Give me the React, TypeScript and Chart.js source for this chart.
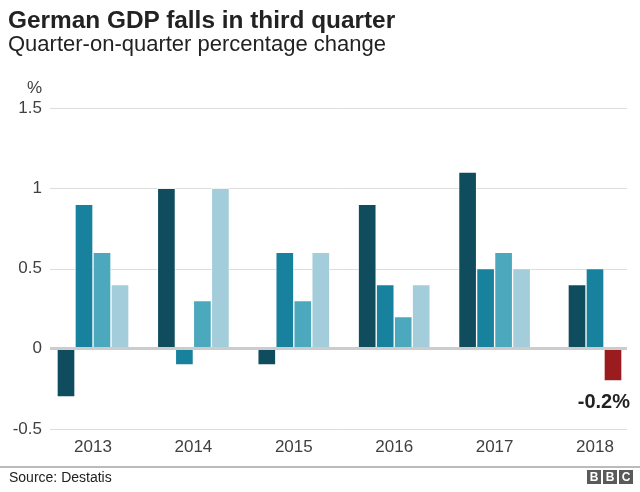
import React, { useEffect, useRef } from "react";
import { Chart, registerables } from "chart.js";

Chart.register(...registerables);

// ---- Data ----
const years = ["2013", "2014", "2015", "2016", "2017", "2018"];
const q1 = [-0.3, 1.0, -0.1, 0.9, 1.1, 0.4];
const q2 = [0.9, -0.1, 0.6, 0.4, 0.5, 0.5];
const q3 = [0.6, 0.3, 0.3, 0.2, 0.6, -0.2];
const q4: (number | null)[] = [0.4, 1.0, 0.6, 0.4, 0.5, null];
const seriesNames = ["Q1", "Q2", "Q3", "Q4"];
const yMin = -0.5;
const yMax = 1.5;
const yStep = 0.5;
const latestLabel = "-0.2%";

const seriesColors = ["#0f4d5e", "#17819e", "#4ca8bd", "#a3cdda"];
const latestColor = "#9b1c1f";
const FONT = "'Liberation Sans', Arial, Helvetica, sans-serif";

const gridPlugin = {
  id: "bbcGrid",
  beforeDatasetsDraw(chart: any) {
    const y = chart.scales.y;
    const ctx = chart.ctx;
    ctx.save();
    ctx.strokeStyle = "#dddddd";
    ctx.lineWidth = 1;
    y.ticks.forEach((t: any) => {
      if (t.value === 0) return;
      const py = Math.round(y.getPixelForValue(t.value)) + 0.5;
      ctx.beginPath();
      ctx.moveTo(50, py);
      ctx.lineTo(627, py);
      ctx.stroke();
    });
    ctx.restore();
  },
  afterDatasetsDraw(chart: any) {
    const y = chart.scales.y;
    const ctx = chart.ctx;
    ctx.save();
    const p0 = Math.round(y.getPixelForValue(0)) - 0.5;
    ctx.strokeStyle = "#cccccc";
    ctx.lineWidth = 3;
    ctx.beginPath();
    ctx.moveTo(50, p0);
    ctx.lineTo(627, p0);
    ctx.stroke();

    // latest value label
    const meta = chart.getDatasetMeta(2);
    const el = meta.data[years.length - 1] as any;
    if (el) {
      ctx.fillStyle = "#222222";
      ctx.font = `bold 20px ${FONT}`;
      ctx.textAlign = "right";
      ctx.textBaseline = "alphabetic";
      ctx.fillText(latestLabel, el.x + el.width / 2 + 8, el.y + 27);
    }
    ctx.restore();
  },
};

export default function App() {
  const ref = useRef<HTMLCanvasElement | null>(null);

  useEffect(() => {
    if (!ref.current) return;
    const allSeries = [q1, q2, q3, q4];
    const chart = new Chart(ref.current, {
      type: "bar",
      data: {
        labels: years,
        datasets: allSeries.map((s, i) => ({
          label: seriesNames[i],
          data: s as any,
          backgroundColor:
            i === 2
              ? years.map((_, k) => (k === years.length - 1 ? latestColor : seriesColors[i]))
              : seriesColors[i],
          borderColor: "rgba(255,255,255,0.55)",
          borderWidth: 1,
          borderSkipped: false,
          barThickness: 18,
          skipNull: true,
          clip: false as any,
        })),
      },
      options: {
        responsive: false,
        animation: false,
        devicePixelRatio: 1,
        layout: { padding: { left: 0, right: 45, top: 108, bottom: 0 } },
        plugins: {
          legend: { display: false },
          tooltip: { enabled: false },
          title: { display: false },
        },
        scales: {
          x: {
            type: "category",
            offset: false,
            grid: { display: false, drawTicks: false },
            border: { display: false },
            ticks: {
              color: "#404040",
              font: { family: FONT, size: 17 },
              padding: 8,
              maxRotation: 0,
              autoSkip: false,
            },
            afterFit: (s: any) => {
              s.height = 63;
            },
          },
          y: {
            min: yMin,
            max: yMax,
            grid: { display: false, drawTicks: false },
            border: { display: false },
            ticks: {
              stepSize: yStep,
              color: "#404040",
              font: { family: FONT, size: 17 },
              padding: 51,
              callback: (v: any) => String(Number(v)),
            },
            afterFit: (s: any) => {
              s.width = 93;
            },
          },
        },
      },
      plugins: [gridPlugin],
    });
    return () => chart.destroy();
  }, []);

  return (
    <div
      style={{
        position: "absolute",
        left: 0,
        top: 0,
        width: 640,
        height: 492,
        background: "#ffffff",
        fontFamily: FONT,
        overflow: "hidden",
      }}
    >
      <canvas
        ref={ref}
        width={640}
        height={492}
        style={{ position: "absolute", left: 0, top: 0, width: 640, height: 492 }}
      />
      <div
        style={{
          position: "absolute",
          left: 8,
          top: 8,
          fontSize: 24.4,
          lineHeight: 1,
          fontWeight: "bold",
          color: "#222222",
          whiteSpace: "nowrap",
        }}
      >
        German GDP falls in third quarter
      </div>
      <div
        style={{
          position: "absolute",
          left: 8,
          top: 33,
          fontSize: 22,
          lineHeight: 1,
          color: "#222222",
          whiteSpace: "nowrap",
        }}
      >
        Quarter-on-quarter percentage change
      </div>
      <div
        style={{
          position: "absolute",
          right: 640 - 42,
          top: 79,
          fontSize: 17,
          lineHeight: 1,
          color: "#404040",
        }}
      >
        %
      </div>
      <div
        style={{
          position: "absolute",
          left: 0,
          top: 466,
          width: 640,
          height: 2,
          background: "#bbbbbb",
        }}
      />
      <div
        style={{
          position: "absolute",
          left: 9,
          top: 470,
          fontSize: 14,
          lineHeight: 1,
          color: "#222222",
          whiteSpace: "nowrap",
        }}
      >
        Source: Destatis
      </div>
      <div style={{ position: "absolute", left: 587, top: 470, display: "flex", gap: 2 }}>
        {["B", "B", "C"].map((c, i) => (
          <div
            key={i}
            style={{
              width: 14,
              height: 14,
              background: "#5a5a5a",
              color: "#ffffff",
              fontSize: 12,
              fontWeight: "bold",
              lineHeight: "14px",
              textAlign: "center",
            }}
          >
            {c}
          </div>
        ))}
      </div>
    </div>
  );
}
